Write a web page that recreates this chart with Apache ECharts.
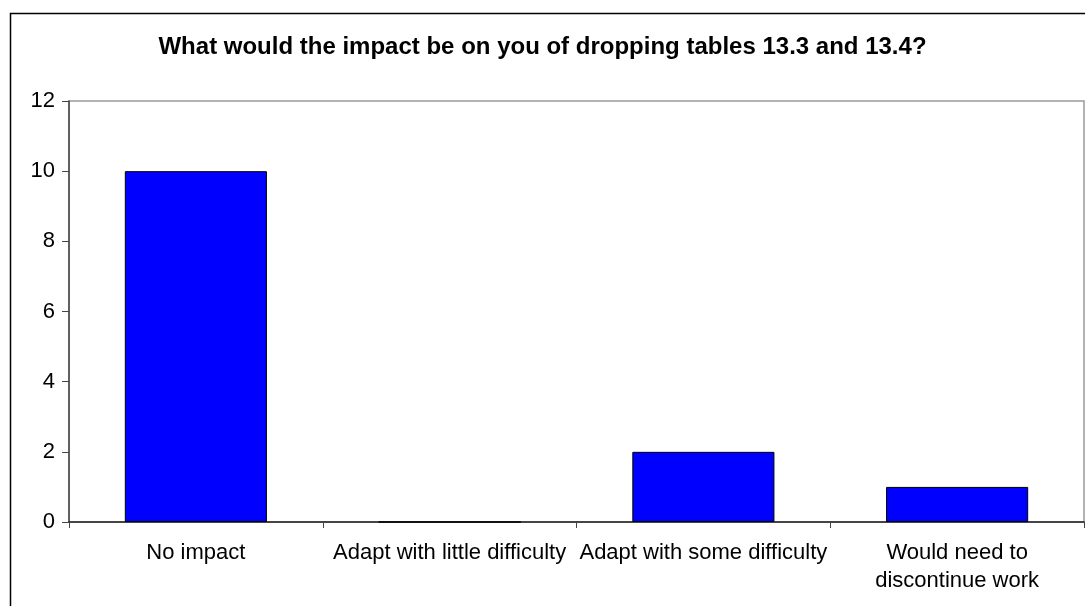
<!DOCTYPE html>
<html>
<head>
<meta charset="utf-8">
<script src="https://cdn.jsdelivr.net/npm/echarts@6/dist/echarts.min.js"></script>
<style>
  html, body { margin: 0; padding: 0; background: #fff; }
  #chart { width: 1085px; height: 606px; }
</style>
</head>
<body>
<div id="chart"></div>
<script>
// Survey responses: impact of dropping tables 13.3 and 13.4
const chartTitle = 'What would the impact be on you of dropping tables 13.3 and 13.4?';
const categories = [
  'No impact',
  'Adapt with little difficulty',
  'Adapt with some difficulty',
  'Would need to\ndiscontinue work'
];
const responses = [10, 0, 2, 1];
const yTicks = { min: 0, max: 12, interval: 2 };

const chart = echarts.init(document.getElementById('chart'), null, { renderer: 'canvas' });
const font = 'Arial, "Liberation Sans", Helvetica, sans-serif';

chart.setOption({
  animation: false,
  backgroundColor: '#fff',
  title: {
    text: chartTitle,
    left: 'center',
    top: 30,
    textStyle: { fontFamily: font, fontSize: 24, fontWeight: 'bold', color: '#000' }
  },
  graphic: [{
    type: 'rect',
    shape: { x: 10.5, y: 13.5, width: 1200, height: 700 },
    style: { fill: 'none', stroke: '#000', lineWidth: 1.5 },
    silent: true,
    z: 0
  }],
  grid: {
    left: 69, right: 1, top: 101, bottom: 84,
    show: true, borderColor: '#999', borderWidth: 1.5, backgroundColor: '#fff'
  },
  xAxis: {
    type: 'category',
    data: categories,
    axisLine: { show: true, lineStyle: { color: '#222', width: 1.5 } },
    axisTick: { show: true, length: 6, alignWithLabel: false, lineStyle: { color: '#444', width: 1 } },
    axisLabel: { interval: 0, margin: 17, color: '#000', fontFamily: font, fontSize: 22, lineHeight: 28 },
    splitLine: { show: false }
  },
  yAxis: {
    type: 'value',
    min: yTicks.min, max: yTicks.max, interval: yTicks.interval,
    axisLine: { show: true, lineStyle: { color: '#444', width: 1.5 } },
    axisTick: { show: true, length: 7, lineStyle: { color: '#444', width: 1 } },
    axisLabel: { margin: 14, color: '#000', fontFamily: font, fontSize: 22 },
    splitLine: { show: false }
  },
  series: [{
    type: 'bar',
    data: responses,
    barWidth: '56%',
    itemStyle: { color: '#0000ff', borderColor: '#000', borderWidth: 1 }
  }]
});
</script>
</body>
</html>
